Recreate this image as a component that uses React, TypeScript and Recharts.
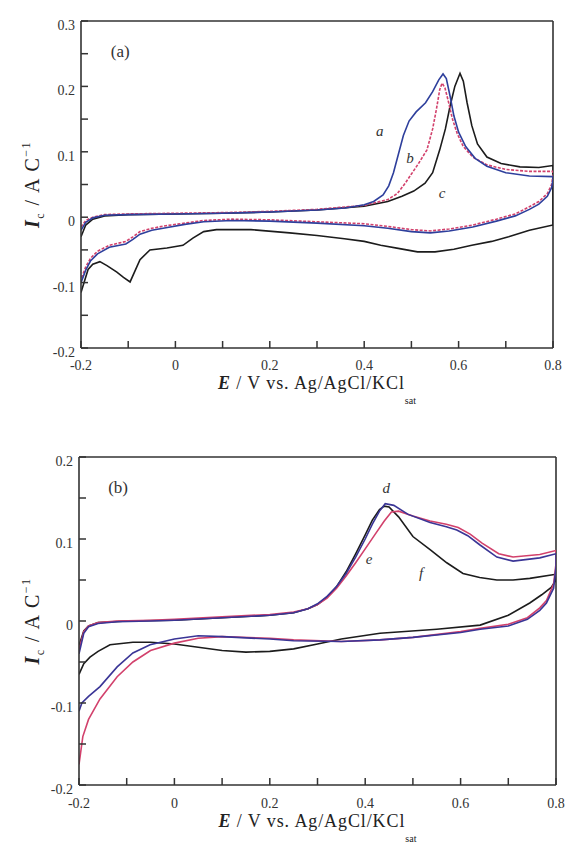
import { LineChart, Line, XAxis, YAxis, ReferenceLine, ReferenceDot } from 'recharts';

const FONT = '"Liberation Serif", "Times New Roman", serif';
const AXIS = '#333';
const TICK_IN = 7;

// tick values (minor ticks included, only some get a label)
const xTicks = [-0.2, -0.1, 0, 0.1, 0.2, 0.3, 0.4, 0.5, 0.6, 0.7, 0.8];
const yTicksA = [-0.2, -0.15, -0.1, -0.05, 0, 0.05, 0.1, 0.15, 0.2, 0.25, 0.3];
const yTicksB = [-0.2, -0.15, -0.1, -0.05, 0, 0.05, 0.1, 0.15, 0.2];

// panel (a) — [E / V, I / A C^-1], forward sweep then reverse sweep
const curveA: [number, number][] = [
  [-0.2, -0.02], [-0.19, -0.008], [-0.175, -0.001], [-0.15, 0.003], [-0.1, 0.004], [0, 0.005],
  [0.1, 0.006], [0.2, 0.008], [0.3, 0.011], [0.36, 0.014], [0.4, 0.019], [0.42, 0.024],
  [0.44, 0.034], [0.452, 0.048], [0.462, 0.068], [0.472, 0.095], [0.483, 0.125], [0.495, 0.147],
  [0.51, 0.161], [0.53, 0.175], [0.545, 0.192], [0.558, 0.21], [0.567, 0.219], [0.574, 0.212],
  [0.582, 0.185], [0.59, 0.155], [0.6, 0.13], [0.615, 0.108], [0.635, 0.09], [0.66, 0.078],
  [0.7, 0.068], [0.75, 0.063], [0.8, 0.062],
  [0.8, 0.058], [0.797, 0.045], [0.788, 0.032], [0.77, 0.02], [0.75, 0.012], [0.72, 0.002],
  [0.68, -0.006], [0.63, -0.015], [0.58, -0.021], [0.54, -0.024], [0.5, -0.022], [0.45, -0.017],
  [0.4, -0.013], [0.3, -0.009], [0.2, -0.006], [0.12, -0.005], [0.06, -0.007], [0.02, -0.011],
  [-0.02, -0.016], [-0.05, -0.02], [-0.075, -0.026], [-0.09, -0.034], [-0.105, -0.041],
  [-0.14, -0.046], [-0.165, -0.056], [-0.18, -0.067], [-0.19, -0.081], [-0.2, -0.1],
];

const curveB: [number, number][] = [
  [-0.2, -0.015], [-0.19, -0.005], [-0.175, 0.0], [-0.15, 0.004], [-0.1, 0.005], [0, 0.006],
  [0.1, 0.007], [0.2, 0.009], [0.3, 0.012], [0.4, 0.018], [0.45, 0.027], [0.47, 0.036],
  [0.487, 0.052], [0.5, 0.066], [0.515, 0.082], [0.533, 0.103], [0.545, 0.135], [0.553, 0.165],
  [0.56, 0.195], [0.565, 0.205], [0.571, 0.198], [0.578, 0.178], [0.587, 0.15], [0.597, 0.128],
  [0.61, 0.108], [0.63, 0.092], [0.66, 0.08], [0.7, 0.073], [0.75, 0.07], [0.8, 0.07],
  [0.8, 0.064], [0.797, 0.05], [0.788, 0.036], [0.77, 0.024], [0.75, 0.016], [0.72, 0.005],
  [0.68, -0.003], [0.63, -0.012], [0.58, -0.018], [0.54, -0.021], [0.5, -0.019], [0.45, -0.014],
  [0.4, -0.01], [0.3, -0.007], [0.2, -0.004], [0.12, -0.003], [0.06, -0.005], [0.02, -0.009],
  [-0.02, -0.013], [-0.05, -0.017], [-0.075, -0.022], [-0.09, -0.03], [-0.105, -0.037],
  [-0.14, -0.043], [-0.165, -0.052], [-0.18, -0.063], [-0.19, -0.076], [-0.2, -0.095],
];

const curveC: [number, number][] = [
  [-0.2, -0.03], [-0.19, -0.012], [-0.175, -0.003], [-0.15, 0.002], [-0.1, 0.004], [0, 0.005],
  [0.1, 0.006], [0.2, 0.008], [0.3, 0.011], [0.4, 0.017], [0.45, 0.024], [0.48, 0.032],
  [0.505, 0.04], [0.529, 0.052], [0.545, 0.068], [0.56, 0.103], [0.572, 0.135], [0.582, 0.17],
  [0.592, 0.2], [0.603, 0.22], [0.61, 0.208], [0.618, 0.175], [0.628, 0.14], [0.64, 0.112],
  [0.66, 0.092], [0.69, 0.082], [0.73, 0.077], [0.77, 0.076], [0.8, 0.079],
  [0.8, -0.012], [0.75, -0.02], [0.706, -0.03], [0.67, -0.037], [0.628, -0.043], [0.59, -0.049],
  [0.55, -0.053], [0.513, -0.053], [0.475, -0.048], [0.435, -0.043], [0.4, -0.037],
  [0.358, -0.033], [0.3, -0.028], [0.242, -0.024], [0.16, -0.019], [0.087, -0.019],
  [0.06, -0.022], [0.037, -0.032], [0.016, -0.043], [-0.018, -0.047], [-0.054, -0.05],
  [-0.075, -0.065], [-0.096, -0.099], [-0.11, -0.092], [-0.124, -0.084], [-0.145, -0.074],
  [-0.16, -0.068], [-0.175, -0.072], [-0.185, -0.08], [-0.2, -0.115],
];

// panel (b)
const curveD: [number, number][] = [
  [-0.2, -0.04], [-0.19, -0.015], [-0.18, -0.007], [-0.16, -0.003], [-0.12, -0.001], [-0.05, 0.0],
  [0, 0.001], [0.1, 0.004], [0.2, 0.007], [0.25, 0.01], [0.28, 0.015], [0.3, 0.021],
  [0.32, 0.03], [0.34, 0.042], [0.36, 0.058], [0.38, 0.078], [0.4, 0.1], [0.415, 0.118],
  [0.43, 0.134], [0.442, 0.143], [0.46, 0.141], [0.49, 0.13], [0.536, 0.12], [0.57, 0.115],
  [0.592, 0.111], [0.615, 0.104], [0.64, 0.093], [0.676, 0.078], [0.71, 0.073], [0.766, 0.077],
  [0.8, 0.082],
  [0.8, 0.066], [0.795, 0.04], [0.78, 0.022], [0.766, 0.013], [0.74, 0.002], [0.7, -0.006],
  [0.641, -0.01], [0.6, -0.014], [0.5, -0.02], [0.431, -0.023], [0.35, -0.025], [0.25, -0.024],
  [0.2, -0.022], [0.1, -0.019], [0.05, -0.018], [0.0, -0.022], [-0.051, -0.029],
  [-0.087, -0.039], [-0.12, -0.056], [-0.156, -0.08], [-0.18, -0.092], [-0.194, -0.1],
  [-0.2, -0.11],
];

const curveE: [number, number][] = [
  [-0.2, -0.035], [-0.19, -0.013], [-0.18, -0.006], [-0.16, -0.002], [-0.12, 0.0], [-0.05, 0.001],
  [0, 0.002], [0.1, 0.005], [0.2, 0.008], [0.25, 0.011], [0.28, 0.015], [0.3, 0.02],
  [0.32, 0.028], [0.34, 0.04], [0.36, 0.055], [0.38, 0.071], [0.4, 0.088], [0.42, 0.105],
  [0.44, 0.122], [0.455, 0.133], [0.47, 0.134], [0.5, 0.128], [0.536, 0.122], [0.57, 0.118],
  [0.595, 0.114], [0.62, 0.106], [0.645, 0.095], [0.68, 0.082], [0.71, 0.078], [0.766, 0.081],
  [0.8, 0.086],
  [0.8, 0.07], [0.795, 0.045], [0.78, 0.025], [0.766, 0.016], [0.74, 0.004], [0.7, -0.004],
  [0.641, -0.009], [0.6, -0.013], [0.5, -0.02], [0.431, -0.023], [0.35, -0.025], [0.25, -0.023],
  [0.2, -0.021], [0.1, -0.019], [0.05, -0.021], [0.0, -0.027], [-0.05, -0.036],
  [-0.087, -0.05], [-0.12, -0.068], [-0.156, -0.095], [-0.18, -0.12], [-0.192, -0.141],
  [-0.2, -0.175],
];

const curveF: [number, number][] = [
  [-0.2, -0.03], [-0.19, -0.012], [-0.18, -0.006], [-0.16, -0.002], [-0.1, 0.0], [0, 0.001],
  [0.1, 0.004], [0.2, 0.007], [0.25, 0.01], [0.28, 0.015], [0.3, 0.02], [0.32, 0.029],
  [0.34, 0.042], [0.36, 0.06], [0.38, 0.082], [0.4, 0.105], [0.415, 0.123], [0.43, 0.136],
  [0.44, 0.14], [0.45, 0.139], [0.47, 0.127], [0.5, 0.103], [0.536, 0.087], [0.571, 0.071],
  [0.605, 0.058], [0.64, 0.053], [0.676, 0.05], [0.71, 0.05], [0.745, 0.052], [0.8, 0.057],
  [0.8, 0.05], [0.79, 0.041], [0.77, 0.032], [0.745, 0.022], [0.7, 0.007], [0.641, -0.005],
  [0.55, -0.01], [0.431, -0.015], [0.35, -0.022], [0.3, -0.028], [0.25, -0.034], [0.2, -0.037],
  [0.15, -0.038], [0.1, -0.036], [0.05, -0.032], [0.0, -0.028], [-0.05, -0.026],
  [-0.087, -0.026], [-0.135, -0.029], [-0.16, -0.037], [-0.177, -0.044], [-0.19, -0.052],
  [-0.2, -0.065],
];

const tagsA = [
  { text: '(a)', E: -0.117, I: 0.253, italic: false },
  { text: 'a', E: 0.433, I: 0.132, italic: true },
  { text: 'b', E: 0.497, I: 0.09, italic: true },
  { text: 'c', E: 0.565, I: 0.037, italic: true },
];

const tagsB = [
  { text: '(b)', E: -0.118, I: 0.162, italic: false },
  { text: 'd', E: 0.444, I: 0.162, italic: true },
  { text: 'e', E: 0.408, I: 0.076, italic: true },
  { text: 'f', E: 0.517, I: 0.058, italic: true },
];

const toRows = (c: [number, number][]) => c.map(([E, I]) => ({ E, I }));

const fmt = (v: number) => {
  const r = Math.round(v * 10) / 10;
  return r === 0 ? '0' : String(r);
};

// the axis draws the (inward) tick marks; these only draw the labels.
// with tickSize = -TICK_IN the label anchor sits TICK_IN px inside the plot.
const XTick = ({ x, y, payload, dy }: any) => {
  const v = payload.value;
  const major = Math.abs(Math.round(v * 10)) % 2 === 0;
  if (!major) return <g />;
  return (
    <text x={x} y={y + TICK_IN + dy} textAnchor="middle" fontSize={14} fontFamily={FONT} fill="#333">
      {fmt(v)}
    </text>
  );
};

const YTick = ({ x, y, payload }: any) => {
  const v = payload.value;
  const major = Math.abs(Math.round(v * 20)) % 2 === 0;
  if (!major) return <g />;
  return (
    <text x={x - TICK_IN - 6} y={y + 9} textAnchor="end" fontSize={14} fontFamily={FONT} fill="#333">
      {fmt(v)}
    </text>
  );
};

const YTitle = ({ viewBox }: any) => {
  const cx = viewBox.x + 39;
  const cy = viewBox.y + viewBox.height / 2;
  return (
    <text
      x={cx}
      y={cy}
      transform={`rotate(-90 ${cx} ${cy})`}
      textAnchor="middle"
      fontSize={20}
      letterSpacing={1.5}
      fontFamily={FONT}
      fill="#222"
    >
      <tspan fontWeight="bold" fontStyle="italic">I</tspan>
      <tspan fontSize={12} dy={5}>c</tspan>
      <tspan dy={-5}> / A C</tspan>
      <tspan fontSize={12} dy={-9}>−1</tspan>
    </text>
  );
};

const XTitle = ({ viewBox, dy }: any) => {
  const cx = viewBox.x + viewBox.width / 2;
  return (
    <text
      x={cx}
      y={viewBox.y + dy}
      textAnchor="middle"
      fontSize={18}
      letterSpacing={0.9}
      fontFamily={FONT}
      fill="#222"
    >
      <tspan fontWeight="bold" fontStyle="italic">E</tspan>
      <tspan> / V vs. Ag/AgCl/KCl</tspan>
      <tspan fontSize={10} letterSpacing={0} dy={15}>sat</tspan>
    </text>
  );
};

const tagShape = (text: string, italic: boolean) => (p: any) => (
  <text
    x={p.cx}
    y={p.cy}
    dy={5}
    textAnchor="middle"
    fontSize={italic ? 15 : 17}
    fontStyle={italic ? 'italic' : 'normal'}
    fontFamily={FONT}
    fill="#333"
  >
    {text}
  </text>
);

type Series = { name: string; data: [number, number][]; color: string; dash?: string };

const seriesA: Series[] = [
  { name: 'c', data: curveC, color: '#1c1c1c' },
  { name: 'b', data: curveB, color: '#d2416c', dash: '3 1.5' },
  { name: 'a', data: curveA, color: '#2e3f9c' },
];

const seriesB: Series[] = [
  { name: 'f', data: curveF, color: '#1c1c1c' },
  { name: 'e', data: curveE, color: '#d2416c' },
  { name: 'd', data: curveD, color: '#3a3596' },
];

function Panel({
  series,
  yTicks,
  yDomain,
  tags,
  margin,
  yWidth,
  xHeight,
  tickDy,
  titleDy,
}: {
  series: Series[];
  yTicks: number[];
  yDomain: [number, number];
  tags: typeof tagsA;
  margin: { top: number; right: number; bottom: number; left: number };
  yWidth: number;
  xHeight: number;
  tickDy: number;
  titleDy: number;
}) {
  return (
    <LineChart width={571} height={423} margin={margin}>
      <XAxis
        type="number"
        dataKey="E"
        domain={[-0.2, 0.8]}
        ticks={xTicks}
        interval={0}
        allowDataOverflow
        height={xHeight}
        tickSize={-TICK_IN}
        tickMargin={0}
        tickLine={{ stroke: AXIS, strokeWidth: 1.5 }}
        axisLine={{ stroke: AXIS, strokeWidth: 1.6 }}
        tick={<XTick dy={tickDy} />}
        label={<XTitle dy={titleDy} />}
      />
      <YAxis
        type="number"
        dataKey="I"
        domain={yDomain}
        ticks={yTicks}
        interval={0}
        allowDataOverflow
        width={yWidth}
        tickSize={-TICK_IN}
        tickMargin={0}
        tickLine={{ stroke: AXIS, strokeWidth: 1.5 }}
        axisLine={{ stroke: AXIS, strokeWidth: 1.6 }}
        tick={<YTick />}
        label={<YTitle />}
      />
      <ReferenceLine x={0.8} stroke={AXIS} strokeWidth={1.6} />
      <ReferenceLine y={yDomain[1]} stroke={AXIS} strokeWidth={1.6} />
      {series.map((s) => (
        <Line
          key={s.name}
          data={toRows(s.data)}
          dataKey="I"
          type="linear"
          stroke={s.color}
          strokeWidth={1.6}
          strokeDasharray={s.dash}
          dot={false}
          activeDot={false}
          isAnimationActive={false}
        />
      ))}
      {tags.map((t) => (
        <ReferenceDot key={t.text} x={t.E} y={t.I} r={1} shape={tagShape(t.text, t.italic)} />
      ))}
    </LineChart>
  );
}

export default function App() {
  return (
    <div style={{ position: 'absolute', left: 0, top: 0, width: 571, height: 846, background: '#fff' }}>
      <Panel
        series={seriesA}
        yTicks={yTicksA}
        yDomain={[-0.2, 0.3]}
        tags={tagsA}
        margin={{ top: 21, right: 18, bottom: 15, left: 0 }}
        yWidth={81}
        xHeight={60}
        tickDy={22}
        titleDy={41}
      />
      <Panel
        series={seriesB}
        yTicks={yTicksB}
        yDomain={[-0.2, 0.2]}
        tags={tagsB}
        margin={{ top: 34, right: 15, bottom: 11, left: 0 }}
        yWidth={79}
        xHeight={50}
        tickDy={23}
        titleDy={42}
      />
    </div>
  );
}
